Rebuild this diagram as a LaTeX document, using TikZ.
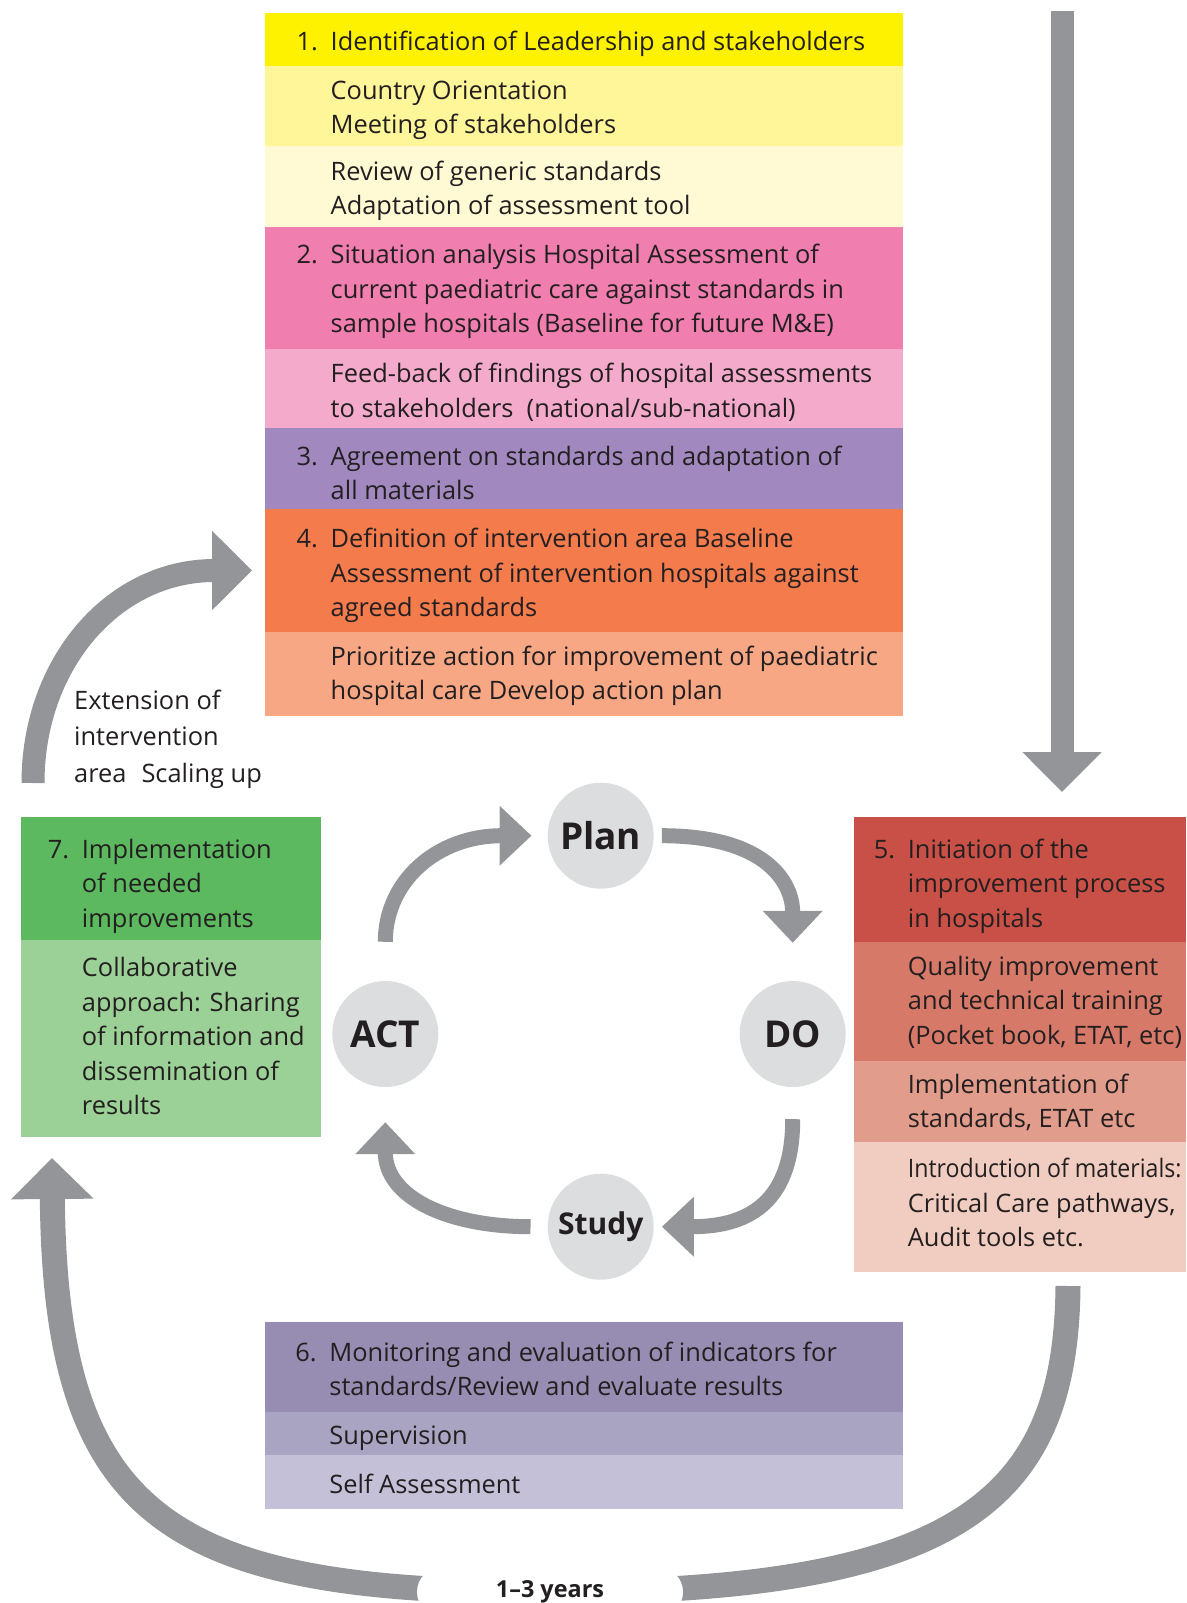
\documentclass[tikz,border=0pt]{standalone}
\usepackage{fontspec}
\usepackage{graphicx}
\setmainfont{Open Sans}
\usetikzlibrary{positioning,arrows.meta}

\definecolor{arrowgrey}{RGB}{147,149,152}
\definecolor{circlegrey}{RGB}{220,221,222}
\definecolor{textdark}{RGB}{35,31,32}
\definecolor{yellowA}{RGB}{255,242,0}
\definecolor{yellowB}{RGB}{255,245,153}
\definecolor{yellowC}{RGB}{255,250,212}
\definecolor{pinkA}{RGB}{240,126,174}
\definecolor{pinkB}{RGB}{244,170,203}
\definecolor{purpleA}{RGB}{161,137,192}
\definecolor{orangeA}{RGB}{244,123,76}
\definecolor{orangeB}{RGB}{247,167,132}
\definecolor{redA}{RGB}{201,80,70}
\definecolor{redB}{RGB}{215,121,104}
\definecolor{redC}{RGB}{226,156,139}
\definecolor{redD}{RGB}{241,205,193}
\definecolor{greenA}{RGB}{92,185,96}
\definecolor{greenB}{RGB}{155,209,150}
\definecolor{violetA}{RGB}{151,141,179}
\definecolor{violetB}{RGB}{170,164,195}
\definecolor{violetC}{RGB}{196,192,215}

\newcommand{\stepnum}[1]{\llap{\makebox[34pt][l]{#1}}}

\begin{document}
\begin{tikzpicture}[x=1pt,y=1pt,yscale=-1,
	band/.style={fill=#1, draw=none, inner sep=0pt, outer sep=0pt},
	topband/.style={band=#1, minimum width=637.8pt},
	txt/.style={inner sep=0pt, align=left, text=textdark, yshift=-4pt, font=\fontsize{25.4}{34.5}\selectfont},
	phase/.style={circle, fill=circlegrey, minimum size=106pt, inner sep=0pt, text=textdark, font=\bfseries\fontsize{37}{40}\selectfont},
	cyc/.style={arrowgrey, line width=15pt, -{Triangle[width=58pt,length=32pt]}},
	bigarrow/.style={arrowgrey, line width=23pt, -{Triangle[width=77pt,length=40pt]}}]
		\useasboundingbox (0,0) rectangle (1186,1603);

		% Draw the column of steps 1 to 4 at the top
		\node[topband=yellowA, minimum height=53.2pt, anchor=north west] (s1) at (265,13.3) {};
		\node[topband=yellowB, minimum height=79.7pt, below=0pt of s1] (s1b) {};
		\node[topband=yellowC, minimum height=80.8pt, below=0pt of s1b] (s1c) {};
		\node[topband=pinkA, minimum height=121.6pt, below=0pt of s1c] (s2) {};
		\node[topband=pinkB, minimum height=79.8pt, below=0pt of s2] (s2b) {};
		\node[topband=purpleA, minimum height=80.8pt, below=0pt of s2b] (s3) {};
		\node[topband=orangeA, minimum height=122.6pt, below=0pt of s3] (s4) {};
		\node[topband=orangeB, minimum height=83.9pt, below=0pt of s4] (s4b) {};

		% The texts of steps 1 to 4
		\node[txt, right=65.5pt of s1.west] (t1) {\stepnum{1.}Identification of Leadership and stakeholders};
		\node[txt, right=65.5pt of s1b.west] (t1b) {Country Orientation\\Meeting of stakeholders};
		\node[txt, right=65.5pt of s1c.west] (t1c) {Review of generic standards\\Adaptation of assessment tool};
		\node[txt, right=65.5pt of s2.west] (t2) {\stepnum{2.}Situation analysis Hospital Assessment of\\current paediatric care against standards in\\sample hospitals (Baseline for future M\&E)};
		\node[txt, right=65.5pt of s2b.west] (t2b) {Feed-back of findings of hospital assessments\\to stakeholders~ (national/sub-national)};
		\node[txt, right=65.5pt of s3.west] (t3) {\stepnum{3.}Agreement on standards and adaptation of\\all materials};
		\node[txt, right=65.5pt of s4.west, yshift=-1pt] (t4) {\stepnum{4.}Definition of intervention area Baseline\\Assessment of intervention hospitals against\\agreed standards};
		\node[txt, right=65.5pt of s4b.west, yshift=2pt] (t4b) {Prioritize action for improvement of paediatric\\hospital care Develop action plan};

		% Step 5 on the right
		\node[band=redA, minimum width=332.3pt, minimum height=125pt, anchor=north west] (s5) at (853.7,816.7) {};
		\node[band=redB, minimum width=332.3pt, minimum height=119pt, below=0pt of s5] (s5b) {};
		\node[band=redC, minimum width=332.3pt, minimum height=81pt, below=0pt of s5b] (s5c) {};
		\node[band=redD, minimum width=332.3pt, minimum height=130pt, below=0pt of s5c] (s5d) {};
		\node[txt, right=54pt of s5.west, yshift=-3pt] (t5) {\stepnum{5.}Initiation of the\\improvement process\\in hospitals};
		\node[txt, right=54pt of s5b.west, yshift=3pt] (t5b) {Quality improvement\\and technical training\\(Pocket book, ETAT, etc)};
		\node[txt, right=54pt of s5c.west, yshift=3pt] (t5c) {Implementation of\\standards, ETAT etc};
		\node[txt, right=54pt of s5d.west, yshift=8pt] (t5d) {\scalebox{0.91}[1]{Introduction of materials:}\\Critical Care pathways,\\Audit tools etc.};

		% Step 7 on the left
		\node[band=greenA, minimum width=299.7pt, minimum height=123.3pt, anchor=north west] (s7) at (21,816.7) {};
		\node[band=greenB, minimum width=299.7pt, minimum height=196.7pt, below=0pt of s7] (s7b) {};
		\node[txt, right=60.7pt of s7.west, yshift=-4pt] (t7) {\stepnum{7.}Implementation\\of needed\\improvements};
		\node[txt, right=60.7pt of s7b.west, yshift=6pt] (t7b) {Collaborative\\approach: Sharing\\of information and\\dissemination of\\results};

		% Step 6 at the bottom
		\node[band=violetA, minimum width=637.8pt, minimum height=89.7pt, anchor=north west] (s6) at (265.2,1322) {};
		\node[band=violetB, minimum width=637.8pt, minimum height=43.3pt, below=0pt of s6] (s6b) {};
		\node[band=violetC, minimum width=637.8pt, minimum height=54pt, below=0pt of s6b] (s6c) {};
		\node[txt, right=64pt of s6.west, yshift=2pt] (t6) {\stepnum{6.}Monitoring and evaluation of indicators for\\standards/Review and evaluate results};
		\node[txt, right=64pt of s6b.west, yshift=-1pt] (t6b) {Supervision};
		\node[txt, right=64pt of s6c.west, yshift=2pt] (t6c) {Self Assessment};

		% The PDCA circles
		\node[phase] (plan) at (600.7,835.7) {Plan};
		\node[phase] (act) at (385.3,1034) {ACT};
		\node[phase] (do) at (792.7,1034) {DO};
		\node[phase, font=\bfseries\fontsize{30}{32}\selectfont] (study) at (600.7,1226.7) {Study};

		% Arrows of the cycle
		\draw[cyc, shorten <=39pt, shorten >=16pt] (act.north) .. controls +(0,-100) and +(-110,0) .. (plan.west);
		\draw[cyc, shorten <=8pt, shorten >=38pt] (plan.east) .. controls +(110,0) and +(0,-100) .. (do.north);
		\draw[cyc, shorten <=32pt, shorten >=8pt] (do.south) .. controls +(0,110) and +(100,0) .. (study.east);
		\draw[cyc, shorten <=17pt, shorten >=35pt] (study.west) .. controls +(-100,0) and +(0,110) .. (act.south);

		% Vertical arrow into step 5
		\coordinate (feedtop) at (1062,11);
		\draw[bigarrow, shorten >=24.7pt] (feedtop) -- (feedtop |- s5.north);

		% Extension arrow back to step 4
		\coordinate (extfoot) at (33,783);
		\draw[bigarrow, shorten >=13pt] (extfoot) .. controls +(0,-119) and +(-152,0) .. (s4.west);
		\node[txt, font=\fontsize{25.4}{36.6}\selectfont, anchor=west] (ext) at (74,735) {Extension of\\intervention\\area\hspace{15pt}Scaling up};

		% The long loop at the bottom
		\coordinate (ufoot) at (1068,1286);
		\coordinate (utip) at (52,1158);
		\draw[bigarrow, line width=25pt, -{Triangle[width=80pt,length=41pt]}] (ufoot) .. controls (1066,1500) and (960,1592) .. (550,1592) .. controls (170,1592) and (55,1520) .. (utip);
		\node[fill=white, rounded corners=25pt, minimum width=266pt, minimum height=50pt, inner sep=0pt, text=textdark, font=\bfseries\fontsize{23.4}{26}\selectfont] (years) at (550,1592) {1–3 years};
\end{tikzpicture}
\end{document}
